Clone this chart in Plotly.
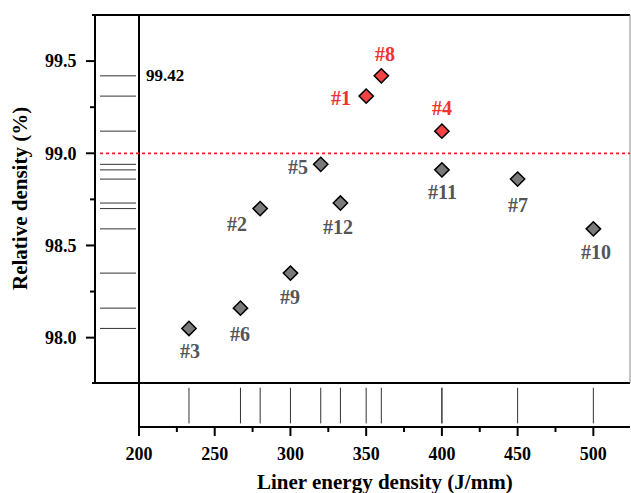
import plotly.graph_objects as go

# ---------------- data ----------------
samples = ["#1", "#2", "#3", "#4", "#5", "#6", "#7", "#8", "#9", "#10", "#11", "#12"]
energy = [350, 280, 233, 400, 320, 267, 450, 360, 300, 500, 400, 333]
density = [99.31, 98.70, 98.05, 99.12, 98.94, 98.16, 98.86, 99.42, 98.35, 98.59, 98.91, 98.73]
threshold = 99.0
max_label = "99.42"
x_major = [200, 250, 300, 350, 400, 450, 500]
x_minor = [225, 275, 325, 375, 425, 475]
y_major = [98.0, 98.5, 99.0, 99.5]
y_minor = [98.25, 98.75, 99.25]

# label offsets (pixels) for each sample
label_dx = [-25, -23, 1, 0, -23, 0, 0, 4, 0, 3, 1, -2]
label_dy = [-2, -15, -23, 23, -3, -26, -26, 22, -24, -23, -22, -24]

FONT = "Liberation Serif"
GRAY_FILL = "#7a7a7a"
RED_FILL = "#f24444"
GRAY_TXT = "#555555"
RED_TXT = "#ee3333"

X_RANGE = [200, 524.2]
Y_RANGE = [97.754, 99.75]

# layout geometry: plot area includes the tick strips (ticks drawn as lines inside them)
W, H = 631, 493
ML, MR, MT, MB = 86, 1, 15, 57
PW, PH = W - ML - MR, H - MT - MB
pxx = lambda v: (v - ML) / PW          # page x pixel -> paper fraction
pyy = lambda v: (H - MB - v) / PH      # page y pixel -> paper fraction
MINOR_FRAC = 0.6                       # minor tick length relative to major

fig = go.Figure()

# rug on left (horizontal lines at each density)
rx, ry = [], []
for d in density:
    rx += [0.093, 0.93, None]
    ry += [d, d, None]
fig.add_trace(go.Scatter(x=rx, y=ry, xaxis="x2", yaxis="y", mode="lines",
                         line=dict(color="#333333", width=1), hoverinfo="skip", showlegend=False))

# rug at bottom (vertical lines at each energy)
bx, by = [], []
for e in energy:
    bx += [e, e, None]
    by += [0.06, 0.89, None]
fig.add_trace(go.Scatter(x=bx, y=by, xaxis="x", yaxis="y3", mode="lines",
                         line=dict(color="#333333", width=1), hoverinfo="skip", showlegend=False))

# tick marks: lines in thin strips sharing the main axes' scales
tx, ty = [], []
for vals, frac in ((x_major, 1.0), (x_minor, MINOR_FRAC)):
    for v in vals:
        tx += [v, v, None]
        ty += [1, 1 - frac, None]
fig.add_trace(go.Scatter(x=tx, y=ty, xaxis="x", yaxis="y4", mode="lines",
                         line=dict(color="black", width=2), hoverinfo="skip", showlegend=False))
tx, ty = [], []
for vals, frac in ((y_major, 1.0), (y_minor, MINOR_FRAC)):
    for v in vals:
        tx += [1, 1 - frac, None]
        ty += [v, v, None]
fig.add_trace(go.Scatter(x=tx, y=ty, xaxis="x3", yaxis="y", mode="lines",
                         line=dict(color="black", width=2), hoverinfo="skip", showlegend=False))

# main points
is_red = [d > threshold for d in density]
gx = [e for e, r in zip(energy, is_red) if not r]
gy = [d for d, r in zip(density, is_red) if not r]
rx2 = [e for e, r in zip(energy, is_red) if r]
ry2 = [d for d, r in zip(density, is_red) if r]
fig.add_trace(go.Scatter(x=gx, y=gy, mode="markers", xaxis="x", yaxis="y",
                         marker=dict(symbol="diamond", size=11, color=GRAY_FILL,
                                     line=dict(color="black", width=1.5)), showlegend=False))
fig.add_trace(go.Scatter(x=rx2, y=ry2, mode="markers", xaxis="x", yaxis="y",
                         marker=dict(symbol="diamond", size=11, color=RED_FILL,
                                     line=dict(color="black", width=1.5)), showlegend=False))

annotations = []
for s, e, d, r, dx, dy in zip(samples, energy, density, is_red, label_dx, label_dy):
    annotations.append(dict(x=e, y=d, xref="x", yref="y", text=s, showarrow=False,
                            xshift=dx, yshift=dy, xanchor="center", yanchor="middle",
                            font=dict(family=FONT, size=20, color=RED_TXT if r else GRAY_TXT,
                                      weight="bold")))

annotations.append(dict(x=x_major[0], y=max(density), xref="x", yref="y", text=max_label,
                        showarrow=False, xanchor="left", yanchor="middle", xshift=5,
                        font=dict(family=FONT, size=17, color="black", weight="bold")))

# axis titles
annotations.append(dict(x=(pxx(139) + 1) / 2, y=pyy(482), xref="paper", yref="paper",
                        text="Liner energy density (J/mm)", showarrow=False,
                        xanchor="center", yanchor="middle",
                        font=dict(family=FONT, size=21, color="black", weight="bold")))
annotations.append(dict(x=pxx(20), y=pyy(199), xref="paper", yref="paper",
                        text="Relative density (%)", showarrow=False, textangle=-90,
                        xanchor="center", yanchor="middle",
                        font=dict(family=FONT, size=21, color="black", weight="bold")))

shapes = [
    dict(type="line", xref="paper", yref="paper", x0=pxx(92), x1=1, y0=1, y1=1,
         line=dict(color="black", width=2)),
    dict(type="line", xref="paper", yref="paper", x0=pxx(92), x1=1, y0=pyy(383), y1=pyy(383),
         line=dict(color="black", width=2)),
    dict(type="line", xref="paper", yref="paper", x0=pxx(139), x1=pxx(139), y0=pyy(436), y1=1,
         line=dict(color="black", width=2)),
    dict(type="line", xref="paper", yref="paper", x0=1, x1=1, y0=pyy(383), y1=1,
         line=dict(color="#888888", width=1)),
    dict(type="line", xref="paper", yref="y", x0=pxx(100), x1=1, y0=threshold, y1=threshold,
         line=dict(color="#e82020", width=1.8, dash="dot")),
]

hidden_axis = dict(range=[0, 1], showline=False, showticklabels=False, ticks="",
                   showgrid=False, zeroline=False)
tickfont = dict(family=FONT, size=18, color="black", weight="bold")
fig.update_layout(
    template="none",
    width=W, height=H, margin=dict(l=ML, r=MR, t=MT, b=MB),
    paper_bgcolor="white", plot_bgcolor="rgba(0,0,0,0)",
    annotations=annotations, shapes=shapes,
    xaxis=dict(domain=[pxx(139), 1], range=X_RANGE, anchor="y3",
               showline=True, linewidth=2, linecolor="black", ticks="",
               tickvals=x_major, ticktext=[str(v) for v in x_major], ticklabelstandoff=10,
               showgrid=False, zeroline=False, tickfont=tickfont),
    yaxis=dict(domain=[pyy(383), 1], range=Y_RANGE, anchor="x2", side="left",
               showline=True, linewidth=2, linecolor="black", ticks="",
               tickvals=y_major, ticktext=[f"{v:.1f}" for v in y_major], ticklabelstandoff=14,
               showgrid=False, zeroline=False, tickfont=tickfont),
    xaxis2=dict(domain=[pxx(96), pxx(139)], anchor="y", **hidden_axis),
    yaxis3=dict(domain=[pyy(426), pyy(383)], anchor="x", **hidden_axis),
    xaxis3=dict(domain=[0, pxx(96)], anchor="y", **hidden_axis),
    yaxis4=dict(domain=[0, pyy(426)], anchor="x", **hidden_axis),
)

fig.write_html("out.html")
